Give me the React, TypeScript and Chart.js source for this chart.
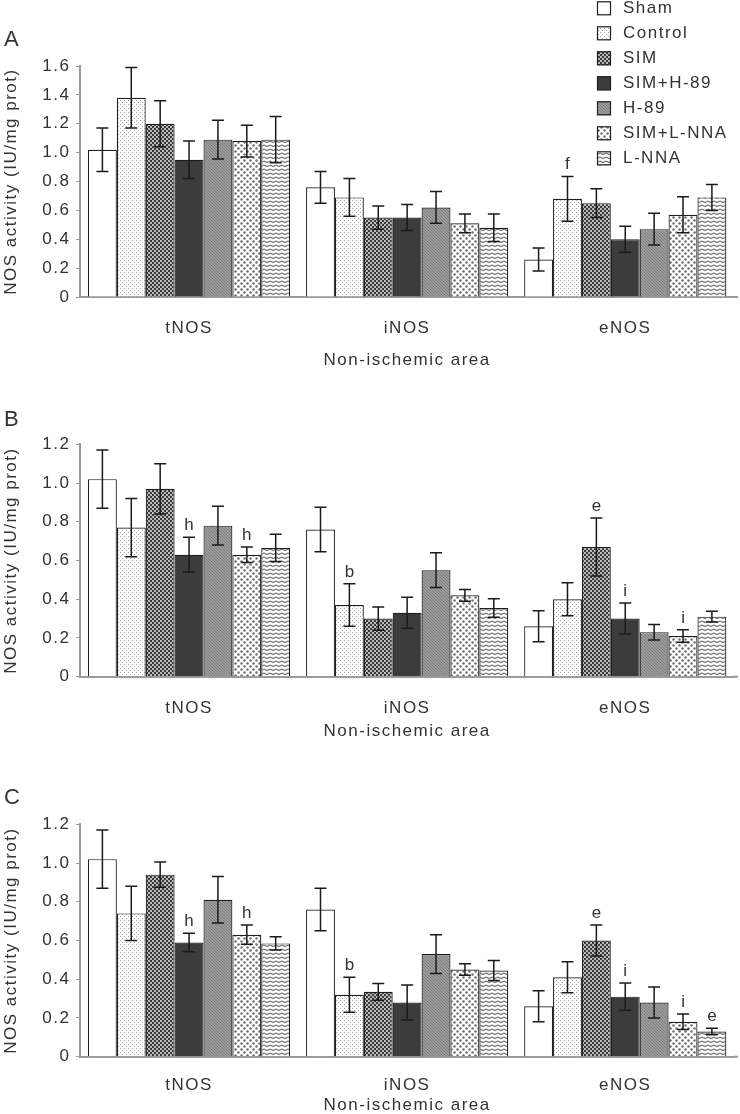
import React, { useEffect, useRef } from 'react';
import { Chart, registerables } from 'chart.js';

Chart.register(...registerables);

// ---------- data ----------
const groups = ['Sham', 'Control', 'SIM', 'SIM+H-89', 'H-89', 'SIM+L-NNA', 'L-NNA'];
const categories = ['tNOS', 'iNOS', 'eNOS'];
const yTitle = 'NOS activity (IU/mg prot)';
const xTitle = 'Non-ischemic area';

// Panel A (values in group order)
const a_tNOS = [1.02, 1.38, 1.2, 0.95, 1.09, 1.08, 1.09];
const a_tNOS_err = [0.15, 0.21, 0.16, 0.13, 0.135, 0.11, 0.16];
const a_tNOS_sig = ['', '', '', '', '', '', ''];
const a_iNOS = [0.76, 0.69, 0.55, 0.55, 0.62, 0.51, 0.48];
const a_iNOS_err = [0.11, 0.13, 0.08, 0.09, 0.11, 0.065, 0.095];
const a_iNOS_sig = ['', '', '', '', '', '', ''];
const a_eNOS = [0.26, 0.68, 0.65, 0.4, 0.47, 0.57, 0.69];
const a_eNOS_err = [0.08, 0.155, 0.1, 0.09, 0.11, 0.125, 0.09];
const a_eNOS_sig = ['', 'f', '', '', '', '', ''];

// Panel B
const b_tNOS = [1.02, 0.77, 0.97, 0.63, 0.78, 0.63, 0.665];
const b_tNOS_err = [0.15, 0.15, 0.13, 0.09, 0.1, 0.04, 0.07];
const b_tNOS_sig = ['', '', '', 'h', '', 'h', ''];
const b_iNOS = [0.76, 0.37, 0.3, 0.33, 0.55, 0.42, 0.355];
const b_iNOS_err = [0.115, 0.11, 0.06, 0.08, 0.09, 0.03, 0.048];
const b_iNOS_sig = ['', 'b', '', '', '', '', ''];
const b_eNOS = [0.26, 0.4, 0.67, 0.3, 0.23, 0.21, 0.31];
const b_eNOS_err = [0.08, 0.085, 0.15, 0.08, 0.04, 0.032, 0.028];
const b_eNOS_sig = ['', '', 'e', 'i', '', 'i', ''];

// Panel C
const c_tNOS = [1.02, 0.74, 0.94, 0.59, 0.81, 0.63, 0.585];
const c_tNOS_err = [0.15, 0.14, 0.065, 0.048, 0.12, 0.05, 0.034];
const c_tNOS_sig = ['', '', '', 'h', '', 'h', ''];
const c_iNOS = [0.76, 0.32, 0.335, 0.28, 0.53, 0.45, 0.445];
const c_iNOS_err = [0.11, 0.09, 0.043, 0.09, 0.1, 0.03, 0.052];
const c_iNOS_sig = ['', 'b', '', '', '', '', ''];
const c_eNOS = [0.26, 0.41, 0.6, 0.31, 0.28, 0.18, 0.13];
const c_eNOS_err = [0.08, 0.08, 0.08, 0.07, 0.08, 0.04, 0.017];
const c_eNOS_sig = ['', '', 'e', 'i', '', 'i', 'e'];

const yMaxA = 1.6;
const yMaxBC = 1.2;
const yStep = 0.2;

// ---------- panel definitions (built from the arrays above) ----------
const panels = [
  {
    letter: 'A', yMax: yMaxA,
    values: [a_tNOS, a_iNOS, a_eNOS], errs: [a_tNOS_err, a_iNOS_err, a_eNOS_err], sigs: [a_tNOS_sig, a_iNOS_sig, a_eNOS_sig],
    layout: { top: 0, height: 371, padTop: 66, xAxisH: 74, tickPad: 13, letterY: 40, legend: true },
  },
  {
    letter: 'B', yMax: yMaxBC,
    values: [b_tNOS, b_iNOS, b_eNOS], errs: [b_tNOS_err, b_iNOS_err, b_eNOS_err], sigs: [b_tNOS_sig, b_iNOS_sig, b_eNOS_sig],
    layout: { top: 380, height: 362, padTop: 64.3, xAxisH: 65.3, tickPad: 13, letterY: 40, legend: false },
  },
  {
    letter: 'C', yMax: yMaxBC,
    values: [c_tNOS, c_iNOS, c_eNOS], errs: [c_tNOS_err, c_iNOS_err, c_eNOS_err], sigs: [c_tNOS_sig, c_iNOS_sig, c_eNOS_sig],
    layout: { top: 760, height: 356, padTop: 64.3, xAxisH: 59.3, tickPad: 10, letterY: 38, legend: false },
  },
];

const FONT = '"Liberation Sans", Arial, sans-serif';
const TEXT = '#333333';
const AXIS = '#9a9a9a';

function tile(w: number, h: number, draw: (c: CanvasRenderingContext2D) => void) {
  const cv = document.createElement('canvas');
  cv.width = w;
  cv.height = h;
  const c = cv.getContext('2d')!;
  draw(c);
  return c.createPattern(cv, 'repeat')!;
}

function makeFills(): (string | CanvasPattern)[] {
  const control = tile(4, 4, (c) => {
    c.fillStyle = '#ffffff'; c.fillRect(0, 0, 4, 4);
    c.fillStyle = '#a0a0a0'; c.fillRect(0, 0, 1, 1); c.fillRect(2, 2, 1, 1);
  });
  const sim = tile(4, 4, (c) => {
    c.fillStyle = '#3a3a3a'; c.fillRect(0, 0, 4, 4);
    c.fillStyle = '#f2f2f2';
    c.beginPath(); c.arc(1, 1, 0.95, 0, Math.PI * 2); c.fill();
    c.beginPath(); c.arc(3, 3, 0.95, 0, Math.PI * 2); c.fill();
  });
  const h89 = tile(3, 3, (c) => {
    c.fillStyle = '#9c9c9c'; c.fillRect(0, 0, 3, 3);
    c.fillStyle = '#7e7e7e'; c.fillRect(0, 0, 1, 1); c.fillRect(1, 1, 1, 1); c.fillRect(2, 2, 1, 1);
  });
  const simLnna = tile(6, 6, (c) => {
    c.fillStyle = '#ffffff'; c.fillRect(0, 0, 6, 6);
    c.fillStyle = '#6e6e6e';
    c.beginPath(); c.arc(1.5, 1.5, 1.25, 0, Math.PI * 2); c.fill();
    c.beginPath(); c.arc(4.5, 4.5, 1.25, 0, Math.PI * 2); c.fill();
  });
  const lnna = tile(6, 4, (c) => {
    c.fillStyle = '#ffffff'; c.fillRect(0, 0, 6, 4);
    c.strokeStyle = '#777777'; c.lineWidth = 1.3;
    c.beginPath(); c.moveTo(0, 1); c.lineTo(3, 2.5); c.lineTo(6, 1); c.stroke();
  });
  return ['#ffffff', control, sim, '#3c3c3c', h89, simLnna, lnna];
}

type PanelDef = (typeof panels)[number];

function Panel({ def }: { def: PanelDef }) {
  const ref = useRef<HTMLCanvasElement | null>(null);

  useEffect(() => {
    const canvas = ref.current!;
    const L = def.layout;
    const fills = makeFills();

    const datasets = groups.map((g, gi) => ({
      label: g,
      data: categories.map((_, ci) => def.values[ci][gi]),
      backgroundColor: fills[gi] as any,
      borderColor: '#1e1e1e',
      borderWidth: 1.2,
      borderSkipped: 'bottom' as const,
      categoryPercentage: 0.927,
      barPercentage: 1,
    }));

    const spacing = {
      id: 'spacing',
      beforeLayout(chart: any) { chart.ctx.letterSpacing = '1.5px'; },
      beforeDraw(chart: any) { chart.ctx.letterSpacing = '1.5px'; },
    };

    const extras = {
      id: 'extras',
      afterDatasetsDraw(chart: any) {
        const ctx: CanvasRenderingContext2D = chart.ctx;
        const y = chart.scales.y;
        chart.data.datasets.forEach((_ds: any, gi: number) => {
          const meta = chart.getDatasetMeta(gi);
          meta.data.forEach((el: any, ci: number) => {
            const v = def.values[ci][gi];
            const e = def.errs[ci][gi];
            const top = y.getPixelForValue(v + e);
            const bot = y.getPixelForValue(v - e);
            ctx.save();
            ctx.strokeStyle = '#1a1a1a';
            ctx.lineWidth = 1.5;
            ctx.beginPath();
            ctx.moveTo(el.x, top); ctx.lineTo(el.x, bot);
            ctx.moveTo(el.x - 6, top); ctx.lineTo(el.x + 6, top);
            ctx.moveTo(el.x - 6, bot); ctx.lineTo(el.x + 6, bot);
            ctx.stroke();
            const s = def.sigs[ci][gi];
            if (s) {
              ctx.fillStyle = TEXT;
              ctx.font = `17px ${FONT}`;
              ctx.textAlign = 'center';
              ctx.textBaseline = 'alphabetic';
              ctx.fillText(s, el.x + 0.75, top - 7);
            }
            ctx.restore();
          });
        });
      },
      afterDraw(chart: any) {
        const ctx: CanvasRenderingContext2D = chart.ctx;
        const area = chart.chartArea;
        ctx.save();
        // extend x axis line to the right edge
        ctx.strokeStyle = AXIS;
        ctx.lineWidth = 2;
        ctx.beginPath();
        ctx.moveTo(area.right - 1, area.bottom);
        ctx.lineTo(738, area.bottom);
        ctx.stroke();
        // panel letter
        ctx.fillStyle = TEXT;
        ctx.font = `22px ${FONT}`;
        ctx.textAlign = 'left';
        ctx.textBaseline = 'middle';
        ctx.fillText(def.letter, 4, L.letterY);
        // legend
        if (L.legend) {
          ctx.font = `17px ${FONT}`;
          groups.forEach((g, gi) => {
            const cy = 8.3 + gi * 25;
            ctx.fillStyle = fills[gi] as any;
            ctx.fillRect(597, cy - 7, 14, 14);
            ctx.strokeStyle = '#1e1e1e';
            ctx.lineWidth = 1.2;
            ctx.strokeRect(597.5, cy - 6.5, 13, 13);
            ctx.fillStyle = TEXT;
            ctx.fillText(g, 623, cy);
          });
        }
        ctx.restore();
      },
    };

    const chart = new Chart(canvas, {
      type: 'bar',
      data: { labels: categories, datasets },
      plugins: [spacing, extras],
      options: {
        responsive: false,
        animation: false,
        devicePixelRatio: 1,
        layout: { padding: { top: L.padTop, left: 0, right: 740 - 734.3, bottom: 0 } },
        plugins: { legend: { display: false }, tooltip: { enabled: false } },
        scales: {
          x: {
            type: 'category',
            grid: { display: false },
            border: { display: true, color: AXIS, width: 2 },
            ticks: { color: TEXT, font: { family: FONT, size: 17 }, padding: L.tickPad, maxRotation: 0 },
            title: { display: true, text: xTitle, color: TEXT, font: { family: FONT, size: 17 }, padding: { top: 0, bottom: 0 } },
            afterFit(scale: any) { scale.height = L.xAxisH; },
          },
          y: {
            min: 0,
            max: def.yMax,
            grid: { display: true, drawOnChartArea: false, drawTicks: true, tickLength: 4, color: AXIS },
            border: { display: true, color: AXIS, width: 2 },
            ticks: {
              stepSize: yStep,
              color: TEXT,
              font: { family: FONT, size: 17 },
              padding: 5.5,
              callback: (v: any) => (Number(v) === 0 ? '0' : Number(v).toFixed(1)),
            },
            title: { display: true, text: yTitle, color: TEXT, font: { family: FONT, size: 17 }, padding: { top: 1, bottom: 0 } },
            afterFit(scale: any) { scale.width = 80; },
          },
        },
      },
    });
    return () => chart.destroy();
  }, [def]);

  const L = def.layout;
  return (
    <canvas
      ref={ref}
      width={740}
      height={L.height}
      style={{ position: 'absolute', left: 0, top: L.top, width: 740, height: L.height }}
    />
  );
}

export default function App() {
  return (
    <div style={{ position: 'absolute', left: 0, top: 0, width: 740, height: 1114, overflow: 'hidden', background: '#ffffff' }}>
      {panels.map((p) => (
        <Panel key={p.letter} def={p} />
      ))}
    </div>
  );
}
